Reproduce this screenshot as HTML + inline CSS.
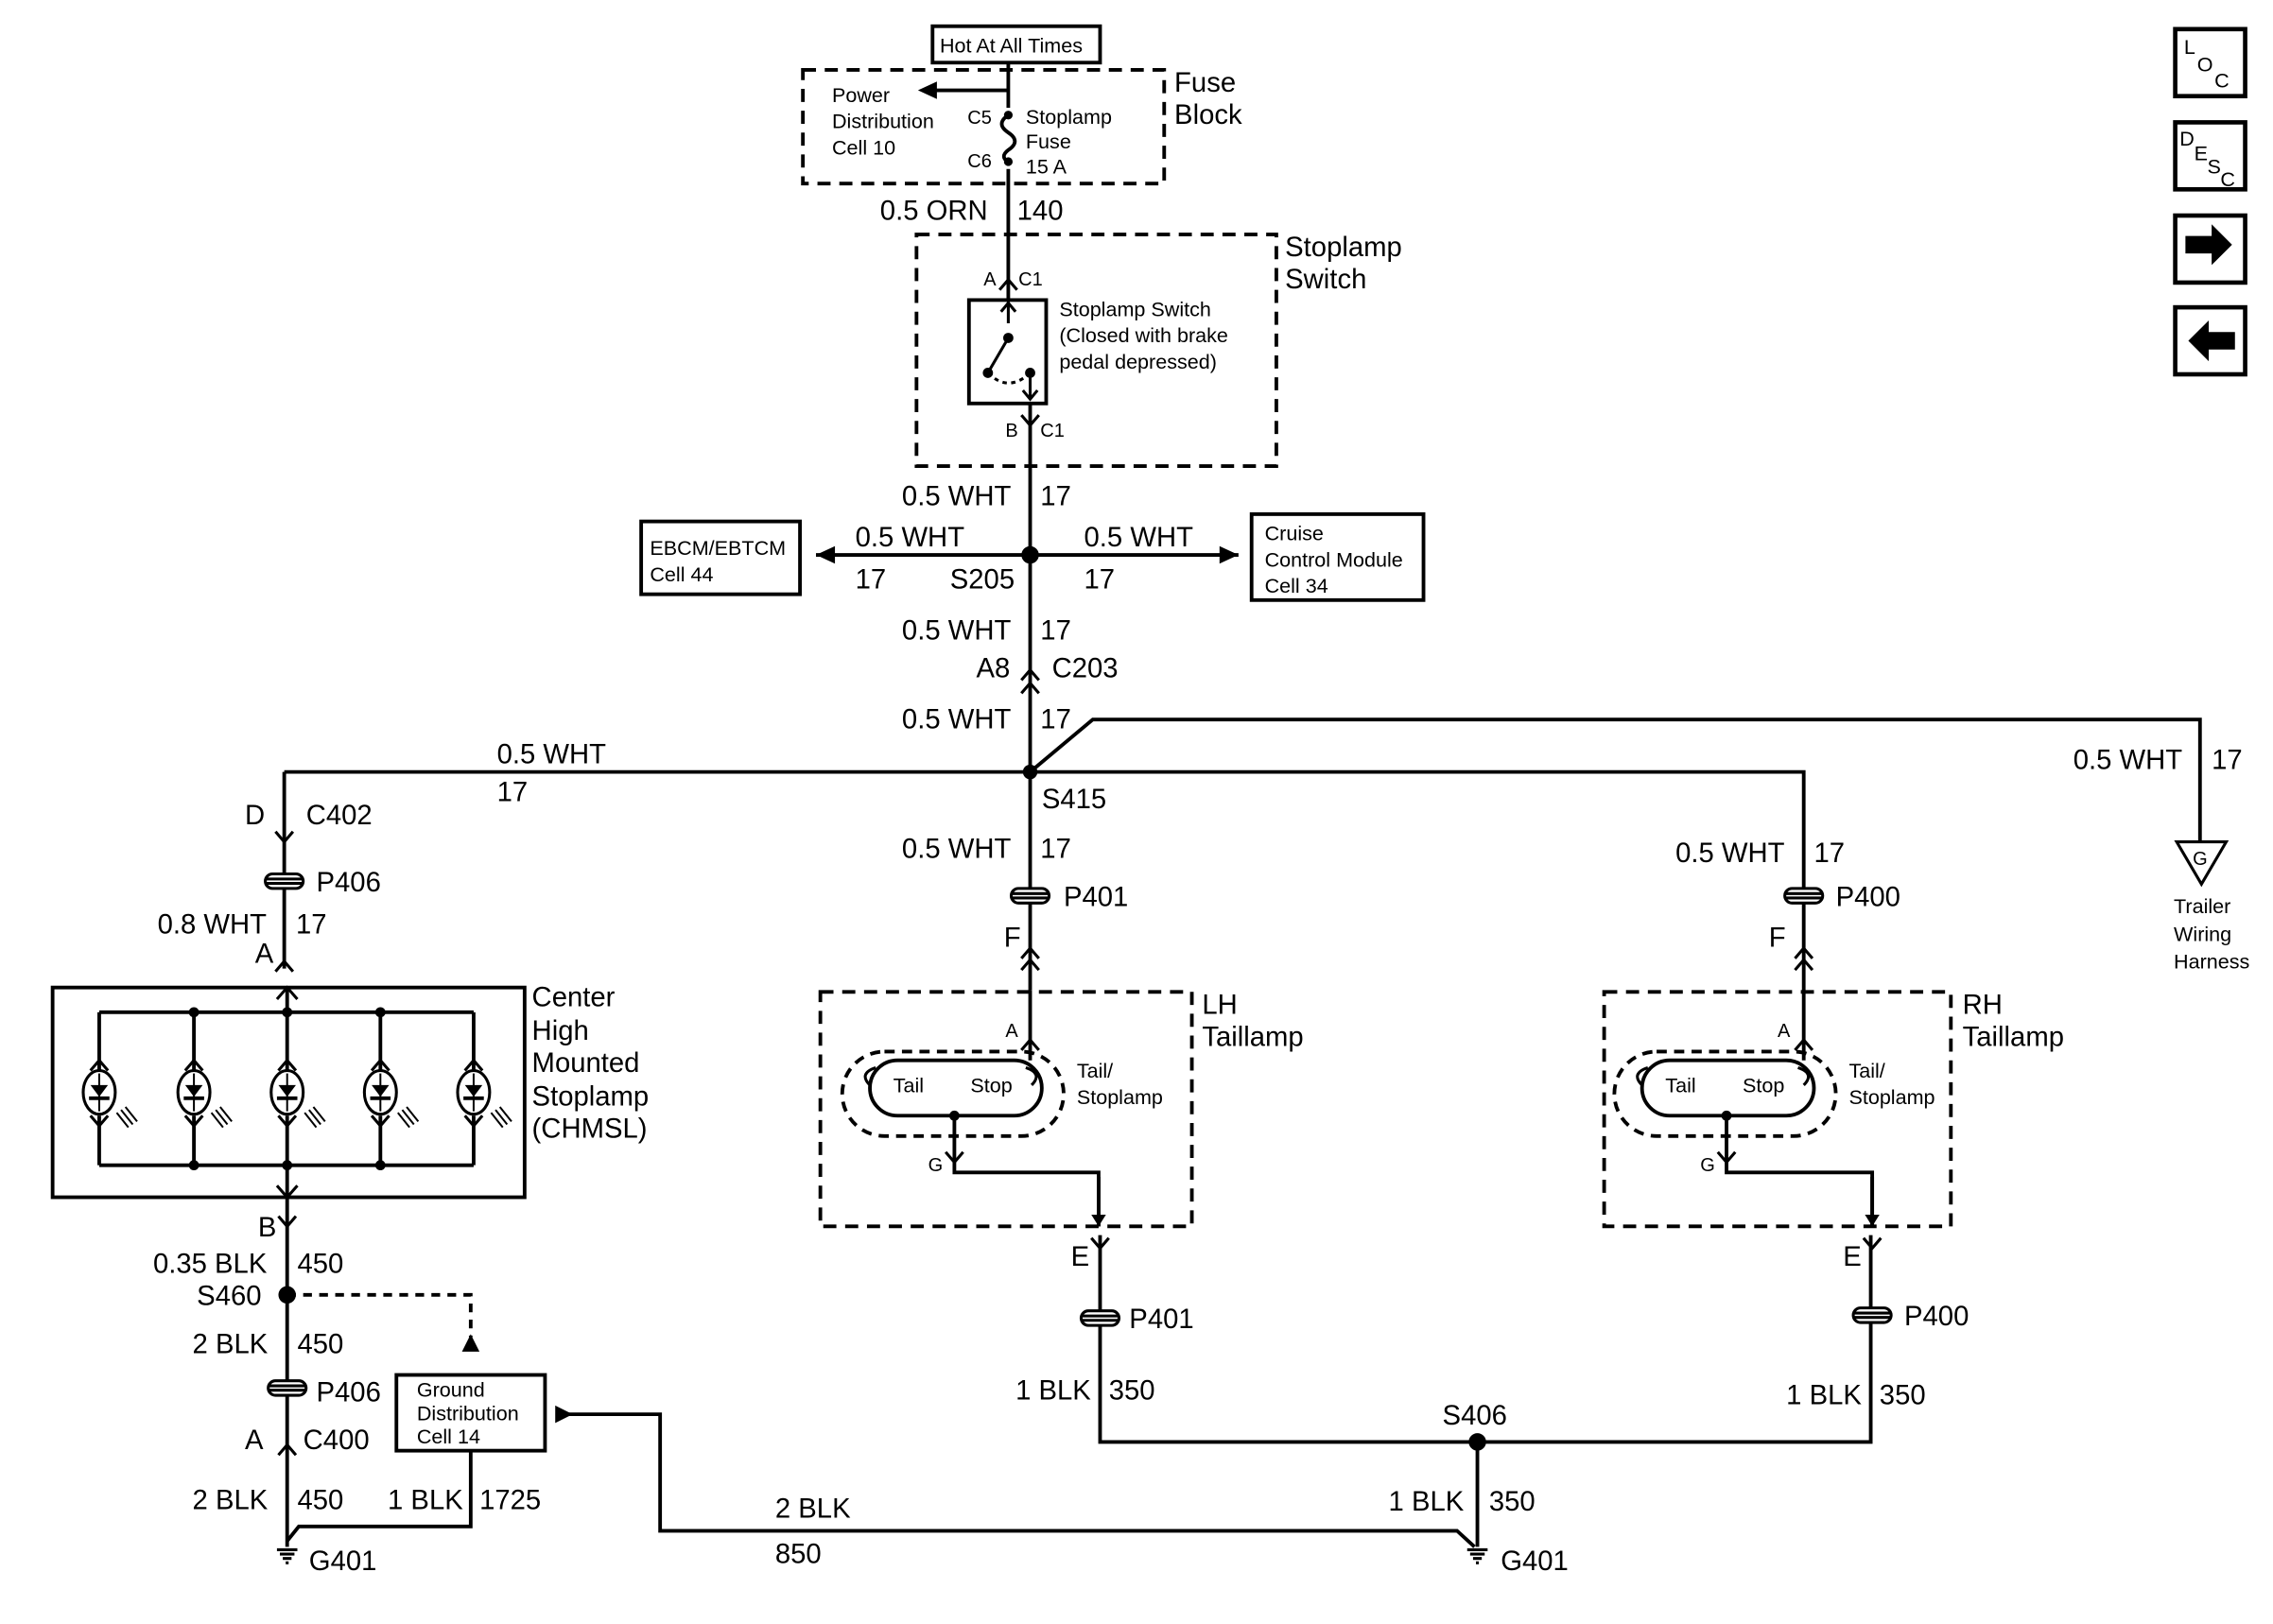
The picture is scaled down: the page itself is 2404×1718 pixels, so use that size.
<!DOCTYPE html>
<html><head><meta charset="utf-8"><style>
html,body{margin:0;padding:0;background:#fff;}
svg{display:block;}
text{font-family:"Liberation Sans",Arial,sans-serif;fill:#000;}
.b{font-size:19px;}
.s{font-size:14px;}
.x{font-size:13px;}
</style></head><body>
<svg width="2404" height="1718" viewBox="0 0 1560 1115" xmlns="http://www.w3.org/2000/svg">
<defs>
<g id="up"><path d="M-6,7 L0,0 L6,7" fill="none" stroke="#000" stroke-width="2"/></g>
<g id="dn"><path d="M-6,-7 L0,0 L6,-7" fill="none" stroke="#000" stroke-width="2"/></g>
<g id="pc"><rect x="-13" y="-5" width="26" height="10" rx="5" fill="#fff" stroke="#000" stroke-width="2"/><line x1="-13" y1="-1.5" x2="13" y2="-1.5" stroke="#000" stroke-width="2"/><line x1="-13" y1="1.5" x2="13" y2="1.5" stroke="#000" stroke-width="2"/></g>
<g id="gnd"><line x1="-7" y1="0" x2="7" y2="0" stroke="#000" stroke-width="2"/><line x1="-5" y1="3" x2="5" y2="3" stroke="#000" stroke-width="2"/><line x1="-3" y1="6" x2="3" y2="6" stroke="#000" stroke-width="2"/><line x1="-1" y1="9" x2="1" y2="9" stroke="#000" stroke-width="2"/></g>
<g id="led"><ellipse cx="0" cy="0" rx="11" ry="15" fill="#fff" stroke="#000" stroke-width="2"/><line x1="0" y1="-13" x2="0" y2="13" stroke="#000" stroke-width="1.3"/><path d="M-6,-5 L6,-5 L0,3 Z" fill="#000"/><line x1="-7" y1="4" x2="7" y2="4" stroke="#000" stroke-width="2.5"/><path d="M12,14 l8,10 M15,12 l8,10 M18,10 l8,10" stroke="#000" stroke-width="1.3"/></g>
</defs>
<g fill="none" stroke="#000" stroke-width="2.5">
<!-- top -->
<rect x="640" y="18" width="115" height="25" stroke-width="2.5"/>
<rect x="551" y="48" width="248" height="78" stroke-dasharray="9,6"/>
<rect x="629" y="161" width="247" height="159" stroke-dasharray="9,6"/>
<path d="M692,43 V74 M692,116 V205"/>
<path d="M692,62 H640"/>
<path d="M692,79 c-6,4 -6,8 0,12 c6,4 6,8 0,12 c-4,3 -4,6 0,8"/>
<rect x="665" y="206" width="53" height="71"/>
<path d="M707,277 V530 M560,381 H850"/>
<path d="M707,530 L750,494 H1510 V578"/>
<path d="M195,530 H1238 V680 M195,530 V665"/>
<path d="M707,530 V680"/>
<!-- CHMSL -->
<rect x="36" y="678" width="324" height="144"/>
<path d="M68,695 H325 M68,800 H325 M68,695 V735 M133,695 V735 M197,678 V735 M261,695 V735 M325,695 V735 M68,766 V800 M133,766 V800 M197,766 V822 M261,766 V800 M325,766 V800"/>
<path d="M197,822 V1062"/>
<path d="M197,889 H323 V918" stroke-dasharray="6,5"/>
<rect x="272" y="944" width="102" height="52"/>
<path d="M323,996 V1048 H205 L197,1058"/>
<path d="M388,971 H453 V1051 H1000 L1012,1062"/>
<path d="M754,808 V842 M755,848 V990 H1284 V848 M1285,808 V842 M1014,990 V1062"/>
<!-- taillamps -->
<rect x="563" y="681" width="255" height="161" stroke-dasharray="9,6"/>
<rect x="1101" y="681" width="238" height="161" stroke-dasharray="9,6"/>
<rect x="578" y="722" width="152" height="58" rx="29" stroke-dasharray="7,5"/>
<rect x="597" y="728" width="118" height="38" rx="19"/>
<path d="M707,680 V728 M655,766 V805 H754 V842"/>
<rect x="1108" y="722" width="152" height="58" rx="29" stroke-dasharray="7,5"/>
<rect x="1127" y="728" width="118" height="38" rx="19"/>
<path d="M1238,680 V728 M1185,766 V805 H1285 V842"/>
<!-- icons -->
<rect x="1493" y="20" width="48" height="46" stroke-width="3"/>
<rect x="1493" y="84" width="48" height="46" stroke-width="3"/>
<rect x="1493" y="148" width="48" height="46" stroke-width="3"/>
<rect x="1493" y="211" width="48" height="46" stroke-width="3"/>
</g>
<!-- switch internals -->
<g stroke="#000" stroke-width="2" fill="none">
<path d="M692,206 V222 M692,232 L678,256 M707,256 V274" />
<path d="M678,256 q14,14 29,0" stroke-dasharray="3,3"/>
<path d="M687,214 l5,-6 l5,6 M702,268 l5,6 l5,-6"/>
<path d="M597,745 q-8,-8 4,-12 M708,745 q8,-8 -4,-12"/>
<path d="M1127,745 q-8,-8 4,-12 M1238,745 q8,-8 -4,-12"/>
<path d="M190,686 l7,-8 l7,8 M190,814 l7,8 l7,-8"/>
</g>
<g fill="#000">
<circle cx="692" cy="79" r="3"/><circle cx="692" cy="111" r="3"/>
<circle cx="692" cy="232" r="3.5"/><circle cx="678" cy="256" r="3.5"/><circle cx="707" cy="256" r="3.5"/>
<circle cx="707" cy="381" r="6"/><circle cx="707" cy="530" r="5"/>
<circle cx="133" cy="695" r="3.5"/><circle cx="197" cy="695" r="3.5"/><circle cx="261" cy="695" r="3.5"/>
<circle cx="133" cy="800" r="3.5"/><circle cx="197" cy="800" r="3.5"/><circle cx="261" cy="800" r="3.5"/>
<circle cx="197" cy="889" r="6"/><circle cx="1014" cy="990" r="6"/>
<circle cx="655" cy="766" r="3.5"/><circle cx="1185" cy="766" r="3.5"/>
<path d="M630,62 l13,-6 v12 Z"/>
<path d="M560,381 l13,-6 v12 Z"/><path d="M850,381 l-13,-6 v12 Z"/>
<path d="M323,916 l-6,12 h12 Z"/>
<path d="M393,971 l-12,-6 v12 Z"/>
<path d="M754,842 l-5,-8 h10 Z"/><path d="M1285,842 l-5,-8 h10 Z"/>
<path d="M1500,162 h18 v-8 l14,14 l-14,14 v-8 h-18 Z"/>
<path d="M1534,228 h-18 v-8 l-14,14 l14,14 v-8 h18 Z"/>
</g>
<use href="#up" x="692" y="192"/><use href="#dn" x="707" y="292"/>
<use href="#up" x="707" y="460"/><use href="#up" x="707" y="469"/>
<use href="#dn" x="195" y="578"/><use href="#pc" x="195" y="605"/><use href="#up" x="195" y="660"/>
<use href="#dn" x="197" y="842"/><use href="#pc" x="197" y="953"/><use href="#up" x="197" y="992"/>
<use href="#pc" x="707" y="615"/><use href="#up" x="707" y="651"/><use href="#up" x="707" y="659"/>
<use href="#pc" x="1238" y="615"/><use href="#up" x="1238" y="651"/><use href="#up" x="1238" y="659"/>
<use href="#up" x="707" y="714"/><use href="#up" x="1238" y="714"/>
<use href="#dn" x="655" y="798"/><use href="#dn" x="1185" y="798"/>
<use href="#dn" x="755" y="857"/><use href="#pc" x="755" y="905"/>
<use href="#dn" x="1285" y="857"/><use href="#pc" x="1285" y="903"/>
<use href="#gnd" x="197" y="1064"/><use href="#gnd" x="1014" y="1064"/>
<g><use href="#up" x="68" y="728"/><use href="#dn" x="68" y="773"/><use href="#led" x="68" y="750"/>
<use href="#up" x="133" y="728"/><use href="#dn" x="133" y="773"/><use href="#led" x="133" y="750"/>
<use href="#up" x="197" y="728"/><use href="#dn" x="197" y="773"/><use href="#led" x="197" y="750"/>
<use href="#up" x="261" y="728"/><use href="#dn" x="261" y="773"/><use href="#led" x="261" y="750"/>
<use href="#up" x="325" y="728"/><use href="#dn" x="325" y="773"/><use href="#led" x="325" y="750"/></g>
<path d="M1494,578 H1528 L1511,607 Z" fill="#fff" stroke="#000" stroke-width="2"/>
<text x="1505" y="594" class="x">G</text>
<!-- text -->
<text x="645" y="36" class="s">Hot At All Times</text>
<text x="806" y="63" class="b">Fuse</text><text x="806" y="85" class="b">Block</text>
<text x="571" y="70" class="s">Power</text><text x="571" y="88" class="s">Distribution</text><text x="571" y="106" class="s">Cell 10</text>
<text x="664" y="85" class="x">C5</text><text x="664" y="115" class="x">C6</text>
<text x="704" y="85" class="s">Stoplamp</text><text x="704" y="102" class="s">Fuse</text><text x="704" y="119" class="s">15 A</text>
<text x="604" y="151" class="b">0.5 ORN</text><text x="698" y="151" class="b">140</text>
<text x="882" y="176" class="b">Stoplamp</text><text x="882" y="198" class="b">Switch</text>
<text x="675" y="196" class="x">A</text><text x="699" y="196" class="x">C1</text>
<text x="690" y="300" class="x">B</text><text x="714" y="300" class="x">C1</text>
<text x="727" y="217" class="s">Stoplamp Switch</text><text x="727" y="235" class="s">(Closed with brake</text><text x="727" y="253" class="s">pedal depressed)</text>
<text x="619" y="347" class="b">0.5 WHT</text><text x="714" y="347" class="b">17</text>
<rect x="440" y="358" width="109" height="50" fill="none" stroke="#000" stroke-width="2.5"/>
<text x="446" y="381" class="s">EBCM/EBTCM</text><text x="446" y="399" class="s">Cell 44</text>
<rect x="859" y="353" width="118" height="59" fill="none" stroke="#000" stroke-width="2.5"/>
<text x="868" y="371" class="s">Cruise</text><text x="868" y="389" class="s">Control Module</text><text x="868" y="407" class="s">Cell 34</text>
<text x="587" y="375" class="b">0.5 WHT</text><text x="587" y="404" class="b">17</text><text x="652" y="404" class="b">S205</text>
<text x="744" y="375" class="b">0.5 WHT</text><text x="744" y="404" class="b">17</text>
<text x="619" y="439" class="b">0.5 WHT</text><text x="714" y="439" class="b">17</text>
<text x="670" y="465" class="b">A8</text><text x="722" y="465" class="b">C203</text>
<text x="619" y="500" class="b">0.5 WHT</text><text x="714" y="500" class="b">17</text>
<text x="341" y="524" class="b">0.5 WHT</text><text x="341" y="550" class="b">17</text>
<text x="715" y="555" class="b">S415</text>
<text x="1423" y="528" class="b">0.5 WHT</text><text x="1518" y="528" class="b">17</text>
<text x="1492" y="627" class="s">Trailer</text><text x="1492" y="646" class="s">Wiring</text><text x="1492" y="665" class="s">Harness</text>
<text x="168" y="566" class="b">D</text><text x="210" y="566" class="b">C402</text>
<text x="217" y="612" class="b">P406</text>
<text x="108" y="641" class="b">0.8 WHT</text><text x="203" y="641" class="b">17</text>
<text x="175" y="661" class="b">A</text>
<text x="365" y="691" class="b">Center</text><text x="365" y="714" class="b">High</text><text x="365" y="736" class="b">Mounted</text><text x="365" y="759" class="b">Stoplamp</text><text x="365" y="781" class="b">(CHMSL)</text>
<text x="177" y="849" class="b">B</text>
<text x="105" y="874" class="b">0.35 BLK</text><text x="204" y="874" class="b">450</text>
<text x="135" y="896" class="b">S460</text>
<text x="132" y="929" class="b">2 BLK</text><text x="204" y="929" class="b">450</text>
<text x="217" y="962" class="b">P406</text>
<text x="286" y="959" class="s">Ground</text><text x="286" y="975" class="s">Distribution</text><text x="286" y="991" class="s">Cell 14</text>
<text x="168" y="995" class="b">A</text><text x="208" y="995" class="b">C400</text>
<text x="132" y="1036" class="b">2 BLK</text><text x="204" y="1036" class="b">450</text>
<text x="266" y="1036" class="b">1 BLK</text><text x="329" y="1036" class="b">1725</text>
<text x="212" y="1078" class="b">G401</text>
<text x="532" y="1042" class="b">2 BLK</text><text x="532" y="1073" class="b">850</text>
<text x="990" y="978" class="b">S406</text>
<text x="953" y="1037" class="b">1 BLK</text><text x="1022" y="1037" class="b">350</text>
<text x="1030" y="1078" class="b">G401</text>
<text x="619" y="589" class="b">0.5 WHT</text><text x="714" y="589" class="b">17</text>
<text x="730" y="622" class="b">P401</text><text x="689" y="650" class="b">F</text>
<text x="825" y="696" class="b">LH</text><text x="825" y="718" class="b">Taillamp</text>
<text x="690" y="712" class="x">A</text>
<text x="613" y="750" class="s">Tail</text><text x="666" y="750" class="s">Stop</text>
<text x="739" y="740" class="s">Tail/</text><text x="739" y="758" class="s">Stoplamp</text>
<text x="637" y="804" class="x">G</text>
<text x="735" y="869" class="b">E</text><text x="775" y="912" class="b">P401</text>
<text x="697" y="961" class="b">1 BLK</text><text x="761" y="961" class="b">350</text>
<text x="1150" y="592" class="b">0.5 WHT</text><text x="1245" y="592" class="b">17</text>
<text x="1260" y="622" class="b">P400</text><text x="1214" y="650" class="b">F</text>
<text x="1347" y="696" class="b">RH</text><text x="1347" y="718" class="b">Taillamp</text>
<text x="1220" y="712" class="x">A</text>
<text x="1143" y="750" class="s">Tail</text><text x="1196" y="750" class="s">Stop</text>
<text x="1269" y="740" class="s">Tail/</text><text x="1269" y="758" class="s">Stoplamp</text>
<text x="1167" y="804" class="x">G</text>
<text x="1265" y="869" class="b">E</text><text x="1307" y="910" class="b">P400</text>
<text x="1226" y="964" class="b">1 BLK</text><text x="1290" y="964" class="b">350</text>
<text x="1499" y="37" class="s">L</text><text x="1508" y="49" class="s">O</text><text x="1520" y="60" class="s">C</text>
<text x="1496" y="100" class="s">D</text><text x="1506" y="110" class="s">E</text><text x="1515" y="119" class="s">S</text><text x="1524" y="128" class="s">C</text>
</svg>
</body></html>
